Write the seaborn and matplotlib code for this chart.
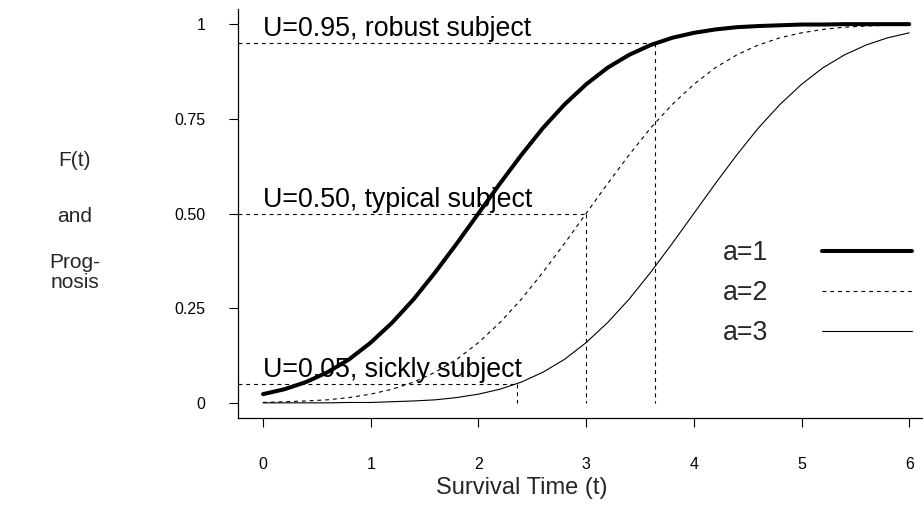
import numpy as np
import pandas as pd
import matplotlib
matplotlib.use("Agg")
import matplotlib.pyplot as plt
import seaborn as sns

# Survival time grid and cumulative distribution F(t) for each frailty level a
t = [0.0, 0.2, 0.4, 0.6, 0.8, 1.0, 1.2, 1.4, 1.6, 1.8, 2.0, 2.2, 2.4, 2.6, 2.8,
     3.0, 3.2, 3.4, 3.6, 3.8, 4.0, 4.2, 4.4, 4.6, 4.8, 5.0, 5.2, 5.4, 5.6, 5.8, 6.0]
F_a1 = [0.023, 0.036, 0.055, 0.081, 0.115, 0.159, 0.212, 0.274, 0.345, 0.421, 0.500,
        0.579, 0.655, 0.726, 0.788, 0.841, 0.885, 0.919, 0.945, 0.964, 0.977, 0.986,
        0.992, 0.995, 0.997, 0.999, 0.999, 1.000, 1.000, 1.000, 1.000]
F_a2 = [0.001, 0.003, 0.005, 0.008, 0.014, 0.023, 0.036, 0.055, 0.081, 0.115, 0.159,
        0.212, 0.274, 0.345, 0.421, 0.500, 0.579, 0.655, 0.726, 0.788, 0.841, 0.885,
        0.919, 0.945, 0.964, 0.977, 0.986, 0.992, 0.995, 0.997, 0.999]
F_a3 = [0.000, 0.000, 0.000, 0.000, 0.001, 0.001, 0.003, 0.005, 0.008, 0.014, 0.023,
        0.036, 0.055, 0.081, 0.115, 0.159, 0.212, 0.274, 0.345, 0.421, 0.500, 0.579,
        0.655, 0.726, 0.788, 0.841, 0.885, 0.919, 0.945, 0.964, 0.977]
series_labels = ["a=1", "a=2", "a=3"]

# Prognosis quantiles: U level, time where it is reached, description
U_levels = [0.95, 0.50, 0.05]
U_times = [3.64, 3.00, 2.36]
U_text = ["U=0.95, robust subject", "U=0.50, typical subject", "U=0.05, sickly subject"]

y_ticks = [0, 0.25, 0.5, 0.75, 1]
y_ticklabels = ["0", "0.25", "0.50", "0.75", "1"]
x_ticks = [0, 1, 2, 3, 4, 5, 6]

sns.set_theme(style="white")
plt.rcParams["font.family"] = ["Liberation Sans", "DejaVu Sans"]

df = pd.DataFrame({
    "t": t * 3,
    "F": F_a1 + F_a2 + F_a3,
    "a": [series_labels[0]] * len(t) + [series_labels[1]] * len(t) + [series_labels[2]] * len(t),
})

fig = plt.figure(figsize=(9.23, 5.29), dpi=100)
ax = fig.add_axes([238 / 923, 1 - 418 / 529, 1 - 238 / 923, (418 - 9) / 529])
xlim = (-0.232, 6.128)
ylim = (-0.040, 1.040)

dash = (0, (3.5, 3.5))
styles = {
    "a=1": dict(linewidth=2.9, linestyle="-"),
    "a=2": dict(linewidth=0.8, linestyle=dash),
    "a=3": dict(linewidth=0.8, linestyle="-"),
}
for lab in series_labels:
    sub = df[df["a"] == lab]
    sns.lineplot(data=sub, x="t", y="F", ax=ax, color="black", label=lab,
                 estimator=None, sort=False, **styles[lab])

# Reference quantile lines and their labels
for u, tu, txt in zip(U_levels, U_times, U_text):
    ax.plot([xlim[0], tu], [u, u], color="black", linewidth=0.8, linestyle=dash)
    ax.plot([tu, tu], [u, 0], color="black", linewidth=0.8, linestyle=dash)
    ax.text(0, u + 0.002, txt, ha="left", va="bottom", fontsize=19.3, color="black")

ax.set_xlim(*xlim)
ax.set_ylim(*ylim)
ax.set_xticks(x_ticks)
ax.set_xticklabels([str(v) for v in x_ticks])
ax.set_yticks(y_ticks)
ax.set_yticklabels(y_ticklabels)
ax.tick_params(axis="both", which="major", direction="out", length=6.5, width=0.8,
               color="black", labelsize=11.5, labelcolor="black", bottom=True, left=True)
ax.tick_params(axis="y", pad=17)
ax.tick_params(axis="x", pad=21.5)
ax.set_xlabel("")
ax.set_ylabel("")
for side in ["top", "right"]:
    ax.spines[side].set_visible(False)
for side in ["left", "bottom"]:
    ax.spines[side].set_color("black")
    ax.spines[side].set_linewidth(0.9)

leg = ax.legend(loc="center left", bbox_to_anchor=(723 / 923, 1 - 293 / 529),
                bbox_transform=fig.transFigure, frameon=False, markerfirst=False,
                fontsize=19.3, handlelength=3.36, handletextpad=2.0, labelspacing=0.52,
                borderpad=0, borderaxespad=0)

fig.text(522 / 923, 1 - 488 / 529, "Survival Time (t)", ha="center", va="center", fontsize=17)
for txt, yy in zip(["F(t)", "and", "Prog-", "nosis"], [160, 216, 262, 283]):
    fig.text(75 / 923, 1 - yy / 529, txt, ha="center", va="center", fontsize=15)

fig.savefig("out.png", dpi=100)
